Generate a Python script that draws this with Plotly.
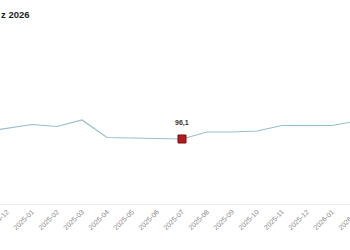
import plotly.graph_objects as go

months = ["2024-11", "2024-12", "2025-01", "2025-02", "2025-03", "2025-04", "2025-05",
          "2025-06", "2025-07", "2025-08", "2025-09", "2025-10", "2025-11", "2025-12",
          "2026-01", "2026-02"]
values = [96.8, 97.2, 97.55, 97.35, 98.0, 96.25, 96.2, 96.15, 96.1, 96.8, 96.8, 96.9,
          97.45, 97.45, 97.45, 97.9]
highlight_month = "2025-07"
highlight_value = 96.1
highlight_label = "96,1"
title_text = "z 2026"

fig = go.Figure()
fig.add_trace(go.Scatter(
    x=months, y=values, mode="lines",
    line=dict(color="#95bfce", width=1.2),
    hoverinfo="skip", showlegend=False,
))
fig.add_trace(go.Scatter(
    x=[highlight_month], y=[highlight_value], mode="markers",
    marker=dict(symbol="square", size=8, color="#b31b1b", line=dict(color="#7a0d0d", width=1)),
    hoverinfo="skip", showlegend=False,
))
fig.add_annotation(
    x=highlight_month, y=highlight_value, yshift=16, showarrow=False,
    text=f"<b>{highlight_label}</b>", xanchor="center", yanchor="middle",
    font=dict(size=7, color="#333333", family="Liberation Sans"),
)

fig.add_annotation(
    xref="paper", yref="paper", x=0, y=1, yshift=15.5, xanchor="left", yanchor="middle",
    text=f"<b>{title_text}</b>", showarrow=False, borderpad=0,
    font=dict(size=9.5, color="#1e1e1e", family="Liberation Sans"),
)

fig.update_layout(
    width=380, height=250, autosize=False,
    margin=dict(l=0, r=0, t=30, b=46, autoexpand=False),
    paper_bgcolor="white", plot_bgcolor="white",
    xaxis=dict(type="category", range=[0.72, 15.92], tickangle=-45, automargin=False,
               showgrid=False, showline=True, linecolor="#ececec", linewidth=1,
               ticks="", tickfont=dict(size=7, color="#888888", family="Liberation Sans"),
               zeroline=False),
    yaxis=dict(range=[89.6, 107.0], visible=False, showgrid=False, zeroline=False,
               automargin=False),
)

fig.write_html("out.html", post_script="document.body.style.overflow='hidden';document.documentElement.style.overflow='hidden';")
